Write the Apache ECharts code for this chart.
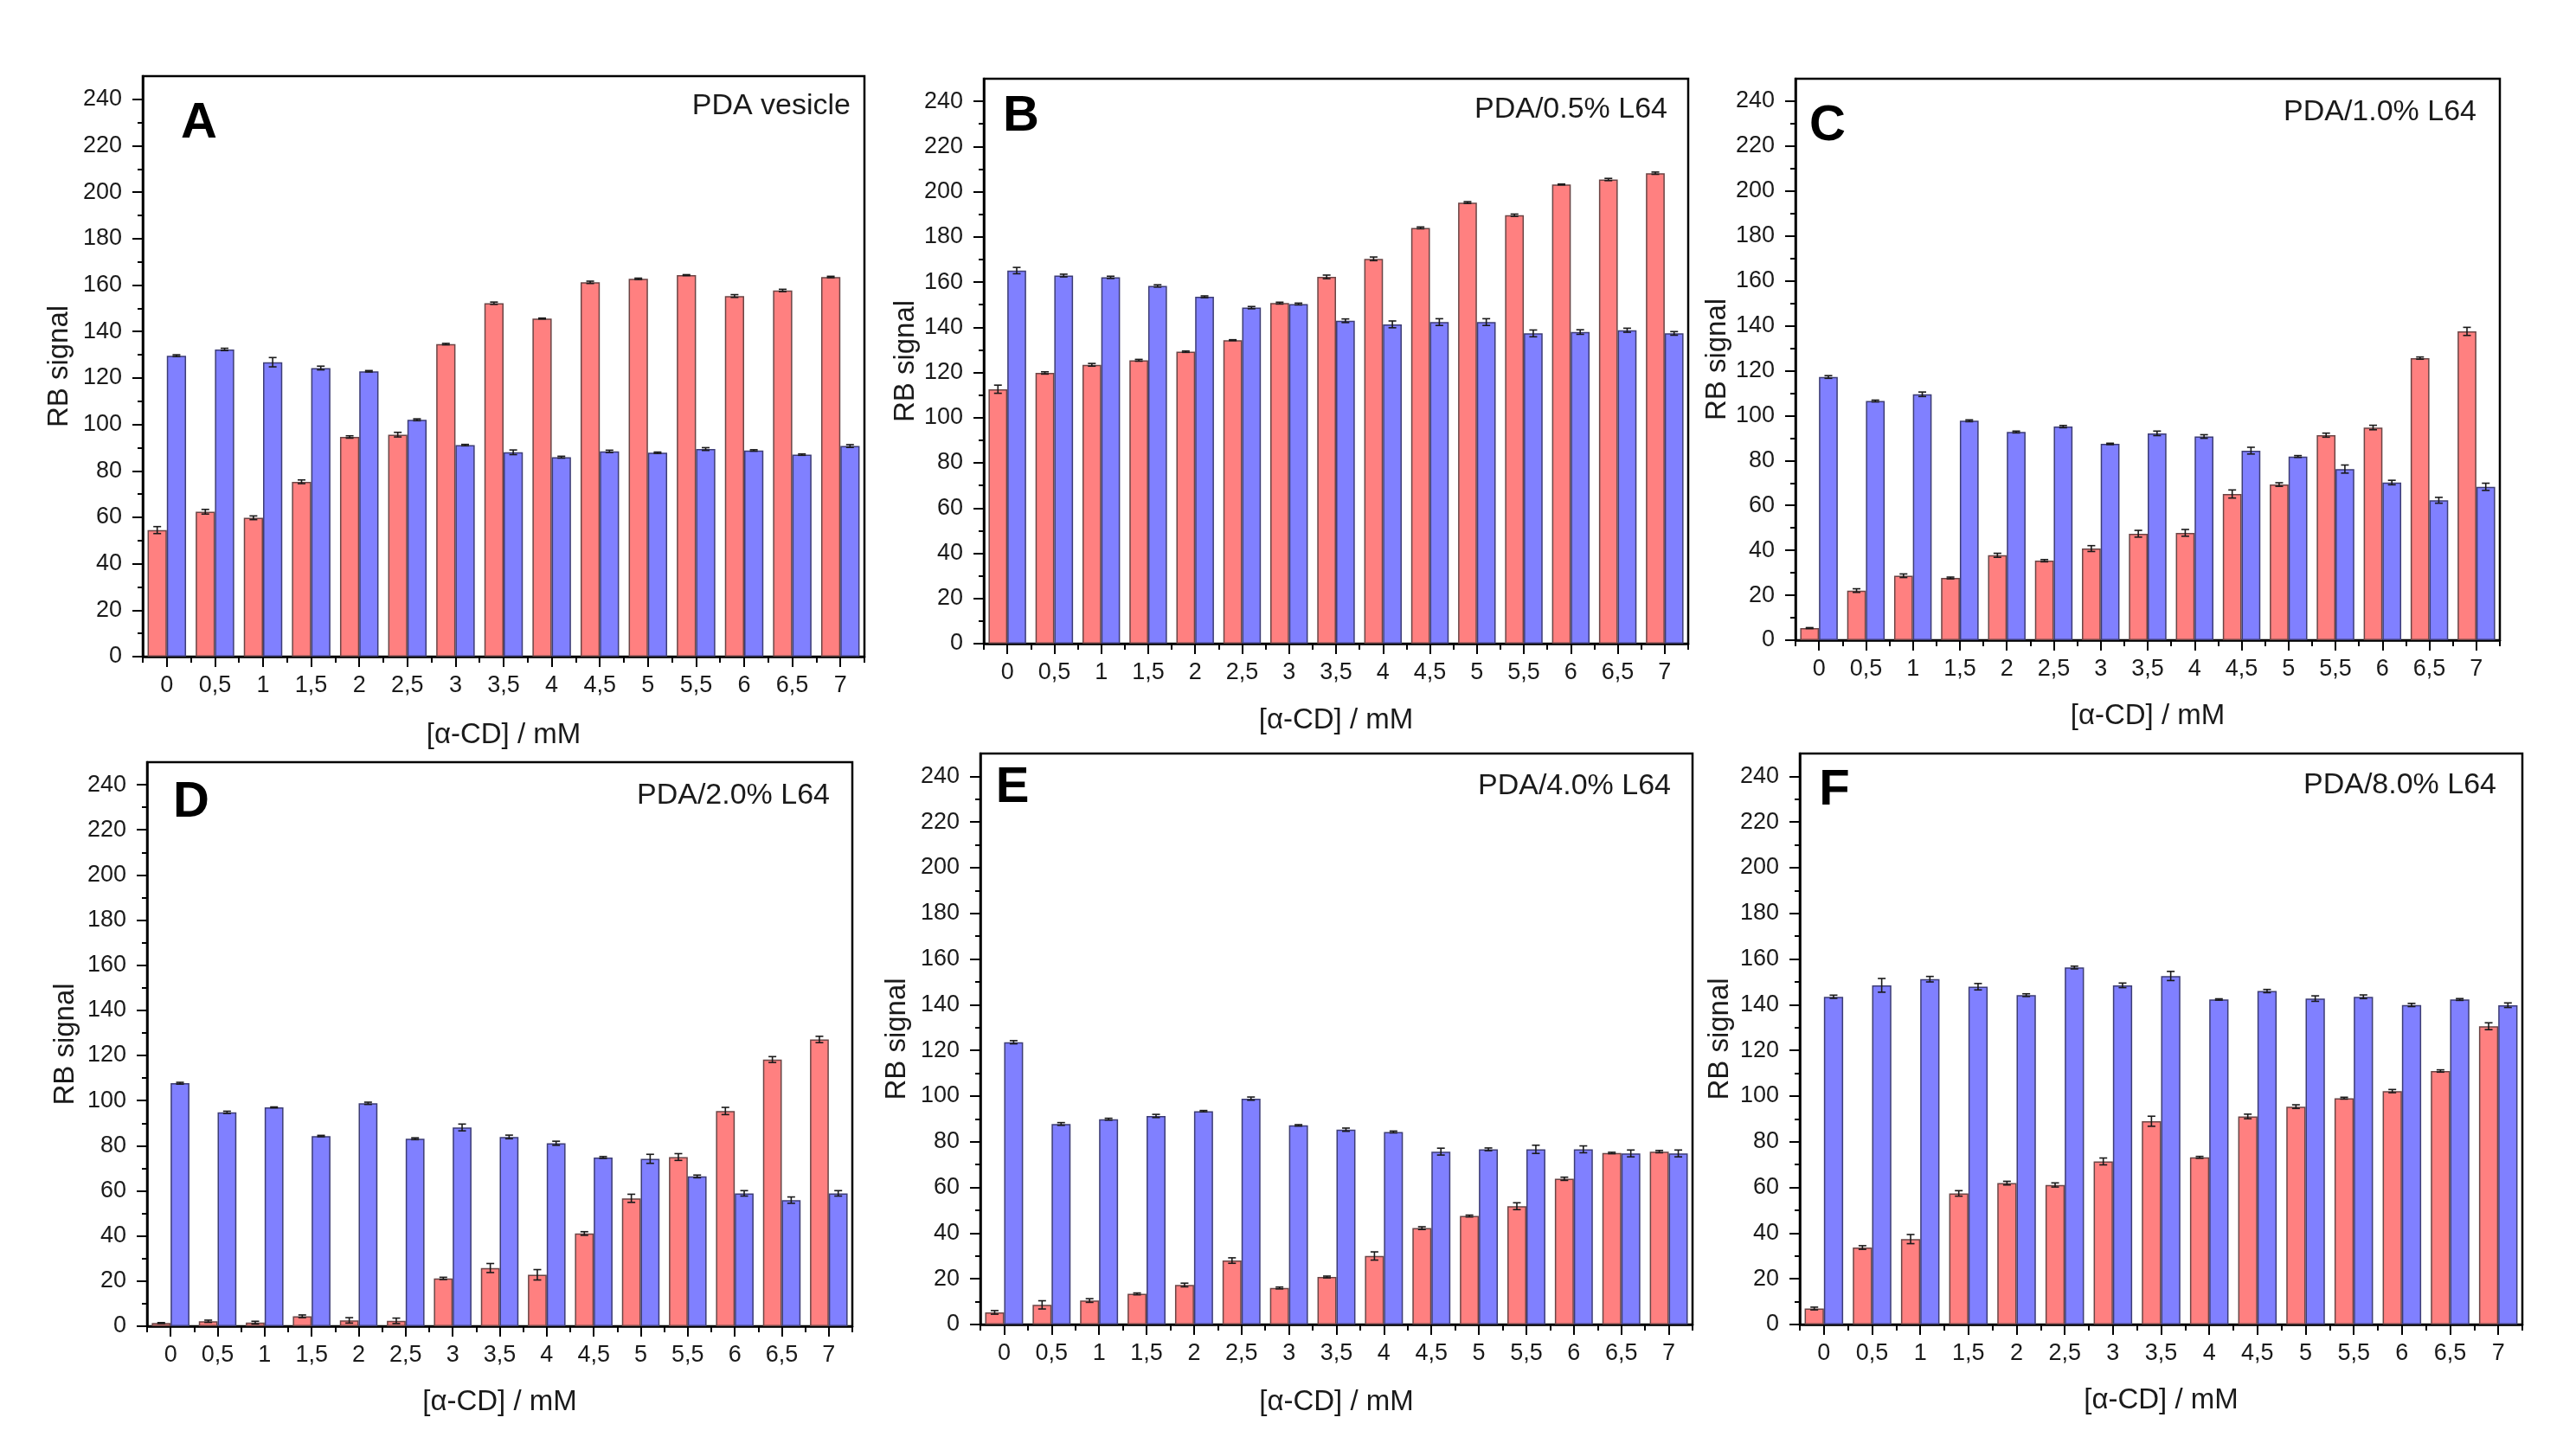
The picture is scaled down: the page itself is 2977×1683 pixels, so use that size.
<!DOCTYPE html>
<html><head><meta charset="utf-8">
<script src="https://cdn.jsdelivr.net/npm/echarts@6/dist/echarts.min.js"></script>
<style>html,body{margin:0;padding:0;background:#fff}#c{width:2977px;height:1683px}</style>
</head><body><div id="c"></div>
<script>
// ---------- data ----------
const categories = ['0','0,5','1','1,5','2','2,5','3','3,5','4','4,5','5','5,5','6','6,5','7'];
const yTickValues = [0,20,40,60,80,100,120,140,160,180,200,220,240];
const yMinorTickValues = [10,30,50,70,90,110,130,150,170,190,210,230];
const panelLetters = ['A','B','C','D','E','F'];
const panelTitles = ['PDA vesicle','PDA/0.5% L64','PDA/1.0% L64','PDA/2.0% L64','PDA/4.0% L64','PDA/8.0% L64'];
const xAxisTitle = '[\u03b1-CD] / mM';
const yAxisTitle = 'RB signal';

const aRed     = [54.5, 62.4, 59.8, 75.3, 94.6, 95.6, 134.6, 152.2, 145.6, 161.2, 162.7, 164.3, 155.3, 157.7, 163.5];
const aRedErr  = [1.5, 1.0, 0.8, 0.8, 0.5, 1.0, 0.3, 0.5, 0.2, 0.5, 0.3, 0.2, 0.6, 0.5, 0.3];
const aBlue    = [129.6, 132.3, 126.8, 124.3, 122.9, 102.0, 91.1, 88.0, 85.9, 88.4, 87.8, 89.4, 88.8, 87.0, 90.7];
const aBlueErr = [0.4, 0.5, 2.0, 0.8, 0.3, 0.4, 0.3, 1.0, 0.4, 0.5, 0.3, 0.6, 0.3, 0.3, 0.6];

const bRed     = [112.6, 119.8, 123.4, 125.4, 129.2, 134.3, 150.7, 162.3, 170.3, 184.0, 195.2, 189.6, 203.2, 205.4, 208.2];
const bRedErr  = [1.8, 0.5, 0.6, 0.4, 0.3, 0.2, 0.4, 0.8, 0.8, 0.4, 0.4, 0.5, 0.2, 0.5, 0.5];
const bBlue    = [165.1, 162.9, 162.1, 158.3, 153.5, 148.7, 150.3, 142.9, 141.3, 142.3, 142.3, 137.3, 137.9, 138.7, 137.3];
const bBlueErr = [1.4, 0.6, 0.5, 0.5, 0.4, 0.5, 0.4, 0.8, 1.5, 1.5, 1.5, 1.5, 1.0, 0.9, 0.8];

const cRed     = [5.4, 22.1, 28.7, 27.7, 37.8, 35.4, 40.8, 47.4, 47.8, 65.1, 69.3, 91.3, 94.7, 125.6, 137.5];
const cRedErr  = [0.2, 0.8, 0.8, 0.4, 0.9, 0.5, 1.3, 1.5, 1.5, 1.8, 0.8, 0.9, 1.0, 0.5, 1.8];
const cBlue    = [117.2, 106.5, 109.5, 97.7, 92.7, 95.1, 87.4, 92.1, 90.7, 84.4, 81.8, 76.2, 70.2, 62.3, 68.3];
const cBlueErr = [0.6, 0.4, 1.0, 0.4, 0.4, 0.5, 0.3, 1.0, 0.8, 1.5, 0.4, 1.8, 1.0, 1.3, 1.6];

const dRed     = [1.4, 2.2, 1.6, 4.4, 2.6, 2.4, 21.2, 25.8, 22.8, 41.1, 56.7, 75.0, 95.4, 118.2, 127.1];
const dRedErr  = [0.2, 0.5, 0.6, 0.6, 1.2, 1.2, 0.5, 2.0, 2.3, 0.8, 1.8, 1.5, 1.6, 1.3, 1.4];
const dBlue    = [107.7, 94.8, 97.0, 84.3, 98.8, 83.1, 88.1, 83.9, 81.1, 74.8, 74.2, 66.4, 58.9, 55.9, 58.9];
const dBlueErr = [0.4, 0.5, 0.2, 0.3, 0.5, 0.4, 1.5, 0.8, 0.9, 0.4, 2.0, 0.6, 1.2, 1.4, 1.2];

const eRed     = [5.3, 8.6, 10.5, 13.4, 17.3, 28.0, 16.0, 20.8, 30.0, 42.2, 47.5, 51.8, 63.8, 75.1, 75.7];
const eRedErr  = [0.8, 1.8, 0.8, 0.4, 0.8, 1.2, 0.4, 0.4, 1.8, 0.6, 0.4, 1.5, 0.7, 0.3, 0.5];
const eBlue    = [123.6, 87.8, 89.9, 91.3, 93.4, 98.9, 87.2, 85.3, 84.3, 75.7, 76.7, 76.7, 76.7, 74.9, 74.9];
const eBlueErr = [0.7, 0.6, 0.4, 0.7, 0.3, 0.7, 0.3, 0.7, 0.4, 1.5, 0.6, 1.8, 1.5, 1.5, 1.5];

const fRed     = [7.0, 33.7, 37.4, 57.4, 61.9, 61.1, 71.4, 89.0, 73.2, 91.1, 95.4, 99.1, 102.2, 111.0, 130.6];
const fRedErr  = [0.6, 0.8, 2.0, 1.2, 0.8, 0.9, 1.5, 2.2, 0.4, 1.0, 0.8, 0.4, 0.7, 0.5, 1.5];
const fBlue    = [143.5, 148.5, 151.2, 147.9, 144.2, 156.3, 148.5, 152.6, 142.3, 146.0, 142.7, 143.5, 139.9, 142.3, 139.8];
const fBlueErr = [0.7, 3.0, 1.2, 1.4, 0.6, 0.6, 1.0, 2.0, 0.3, 0.7, 1.2, 0.8, 0.7, 0.4, 1.0];

const panelRed     = [aRed, bRed, cRed, dRed, eRed, fRed];
const panelRedErr  = [aRedErr, bRedErr, cRedErr, dRedErr, eRedErr, fRedErr];
const panelBlue    = [aBlue, bBlue, cBlue, dBlue, eBlue, fBlue];
const panelBlueErr = [aBlueErr, bBlueErr, cBlueErr, dBlueErr, eBlueErr, fBlueErr];

// ---------- layout (pixels) ----------
const layout = [
  {left:165,  top:88,  width:834, height:671, yGap:80, xGap:74, letter:[230,143],  title:[983,123]},
  {left:1137, top:91,  width:814, height:653, yGap:74, xGap:72, letter:[1180,135], title:[1927,127]},
  {left:2075, top:91,  width:814, height:649, yGap:74, xGap:71, letter:[2112,146], title:[2862,130]},
  {left:170,  top:881, width:815, height:652, yGap:78, xGap:71, letter:[221,928],  title:[959,920]},
  {left:1133, top:871, width:823, height:660, yGap:80, xGap:73, letter:[1170,911], title:[1931,909]},
  {left:2080, top:871, width:835, height:660, yGap:76, xGap:71, letter:[2120,914], title:[2885,908]}
];
const FONT = '"Liberation Sans", Arial, sans-serif';
const RED = '#FF8080', BLUE = '#8080FF';

function errRender(side){
  return function(params, api){
    const ci = api.value(0), v = api.value(1), e = api.value(2);
    const w = api.size([1,0])[0];
    const x = api.coord([ci, v])[0] + side*0.2*w;
    const yt = api.coord([ci, v+e])[1], yb = api.coord([ci, v-e])[1];
    const hw = 4.5;
    const st = {stroke:'#1a1a1a', lineWidth:1.6};
    return {type:'group', children:[
      {type:'line', shape:{x1:x,y1:yt,x2:x,y2:yb}, style:st},
      {type:'line', shape:{x1:x-hw,y1:yt,x2:x+hw,y2:yt}, style:st},
      {type:'line', shape:{x1:x-hw,y1:yb,x2:x+hw,y2:yb}, style:st}
    ]};
  };
}

const grids=[], xAxes=[], yAxes=[], series=[], graphics=[];
layout.forEach((L,i)=>{
  grids.push({left:L.left, top:L.top, width:L.width, height:L.height, show:true,
    borderColor:'#000', borderWidth:2.5, backgroundColor:'transparent', containLabel:false});
  xAxes.push({type:'category', gridIndex:i, data:categories, position:'bottom',
    boundaryGap:true,
    axisLine:{show:true, lineStyle:{color:'#000', width:2.5}},
    axisTick:{show:true, alignWithLabel:true, interval:0, length:12, lineStyle:{color:'#000', width:2}},
    axisLabel:{show:true, interval:0, margin:20, fontSize:27, color:'#1a1a1a', fontFamily:FONT},
    splitLine:{show:false},
    name:xAxisTitle, nameLocation:'middle', nameGap:L.xGap,
    nameTextStyle:{fontSize:33, color:'#1a1a1a', fontFamily:FONT}});
  xAxes.push({type:'category', gridIndex:i, data:categories, position:'bottom',
    boundaryGap:true,
    axisLine:{show:false},
    axisTick:{show:true, alignWithLabel:false, interval:0, length:7, lineStyle:{color:'#000', width:2}},
    axisLabel:{show:false}, splitLine:{show:false}});
  yAxes.push({type:'value', gridIndex:i, min:0, max:250, interval:20, position:'left',
    axisLine:{show:true, lineStyle:{color:'#000', width:2.5}},
    axisTick:{show:true, length:12, customValues:yTickValues, lineStyle:{color:'#000', width:2}},
    axisLabel:{show:true, margin:24, fontSize:27, color:'#1a1a1a', fontFamily:FONT,
      customValues:yTickValues, formatter:v => (v<=240 ? String(v) : '')},
    splitLine:{show:false},
    name:yAxisTitle, nameLocation:'middle', nameGap:L.yGap, nameRotate:90,
    nameTextStyle:{fontSize:33, color:'#1a1a1a', fontFamily:FONT}});
  yAxes.push({type:'value', gridIndex:i, min:0, max:250, interval:10, position:'left',
    axisLine:{show:false},
    axisTick:{show:true, length:6, customValues:yMinorTickValues, lineStyle:{color:'#000', width:2}},
    axisLabel:{show:false}, splitLine:{show:false}});

  series.push({type:'bar', name:'red'+i, xAxisIndex:2*i, yAxisIndex:2*i, data:panelRed[i],
    barWidth:'40%', barGap:'0%', barCategoryGap:'20%',
    itemStyle:{color:RED, borderColor:'#6b4545', borderWidth:1.5}, z:2, silent:true});
  series.push({type:'bar', name:'blue'+i, xAxisIndex:2*i, yAxisIndex:2*i, data:panelBlue[i],
    barWidth:'40%', barGap:'0%', barCategoryGap:'20%',
    itemStyle:{color:BLUE, borderColor:'#3d3d75', borderWidth:1.5}, z:2, silent:true});
  series.push({type:'custom', xAxisIndex:2*i, yAxisIndex:2*i, renderItem:errRender(-1),
    data:panelRed[i].map((v,k)=>[k, v, panelRedErr[i][k]]), encode:{x:0,y:1}, z:5, silent:true});
  series.push({type:'custom', xAxisIndex:2*i, yAxisIndex:2*i, renderItem:errRender(1),
    data:panelBlue[i].map((v,k)=>[k, v, panelBlueErr[i][k]]), encode:{x:0,y:1}, z:5, silent:true});

  graphics.push({type:'text', x:L.letter[0], y:L.letter[1], z:10,
    style:{text:panelLetters[i], font:'bold 58px '+FONT, fill:'#000', align:'center', verticalAlign:'middle'}});
  graphics.push({type:'text', x:L.title[0], y:L.title[1], z:10,
    style:{text:panelTitles[i], font:'34px '+FONT, fill:'#1a1a1a', align:'right', verticalAlign:'middle'}});
});

const chart = echarts.init(document.getElementById('c'), null, {renderer:'canvas'});
chart.setOption({
  animation:false,
  backgroundColor:'#fff',
  grid:grids, xAxis:xAxes, yAxis:yAxes, series:series, graphic:graphics
});
</script></body></html>
